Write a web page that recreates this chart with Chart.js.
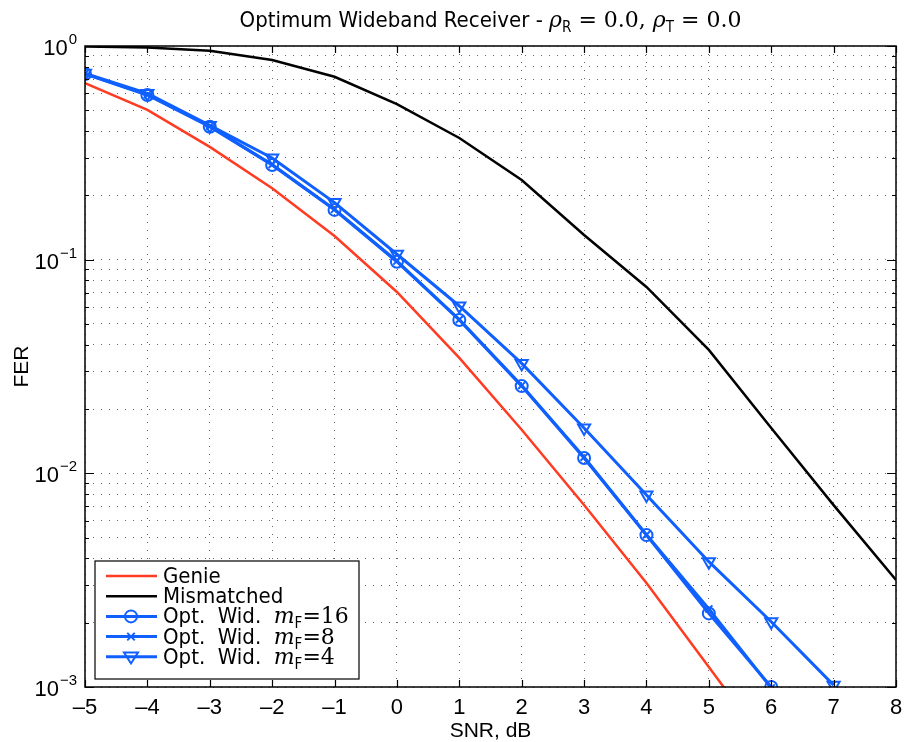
<!DOCTYPE html>
<html>
<head>
<meta charset="utf-8">
<script src="https://cdn.jsdelivr.net/npm/chart.js@4/dist/chart.umd.min.js"></script>
<style>
html, body { margin: 0; padding: 0; background: #fff; }
</style>
</head>
<body>
<canvas id="chart" width="905" height="742"></canvas>
<script>
// values
const snr = [-5, -4, -3, -2, -1, 0, 1, 2, 3, 4, 5, 6, 7, 8];
const genie = [0.671, 0.502, 0.337, 0.216, 0.129, 0.0706, 0.0347, 0.0160, 0.00711, 0.00307, 0.00124, 0.0005, null, null];
const mismatched = [0.995, 0.985, 0.95, 0.86, 0.718, 0.535, 0.371, 0.236, 0.1305, 0.0745, 0.0378, 0.0163, 0.0071, 0.00317];
const optM16 = [0.740, 0.590, 0.419, 0.2775, 0.171, 0.0978, 0.0522, 0.0256, 0.0118, 0.00514, 0.00221, 0.001, null, null];
const optM8 = [0.742, 0.592, 0.421, 0.279, 0.172, 0.0985, 0.0525, 0.0258, 0.0119, 0.00516, 0.00232, 0.00099, null, null];
const optM4 = [0.745, 0.600, 0.425, 0.299, 0.185, 0.106, 0.0607, 0.0327, 0.0163, 0.00792, 0.00386, 0.00202, 0.00102, null];
const yDecades = [1e-3, 1e-2, 1e-1, 1];
const yExponents = ['\u22123', '\u22122', '\u22121', '0'];

const RED = '#ff3b22';
const BLUE = '#1060ff';
const SANS = '"Liberation Sans", "DejaVu Sans", sans-serif';
const COND = '"DejaVu Sans Condensed", "Liberation Sans Narrow", "Liberation Sans", sans-serif';
const SERIF = '"DejaVu Serif", "Liberation Serif", serif';

const toXY = arr => snr.map((x, i) => ({ x: x, y: arr[i] }));

// text runs: [text, font, dy]
function drawRuns(ctx, runs, x, y, align) {
  let total = 0;
  runs.forEach(r => { ctx.font = r[1]; total += ctx.measureText(r[0]).width; });
  let cx = align === 'center' ? x - total / 2 : (align === 'right' ? x - total : x);
  ctx.textAlign = 'left';
  runs.forEach(r => {
    ctx.font = r[1];
    ctx.fillText(r[0], cx, y + (r[2] || 0));
    cx += ctx.measureText(r[0]).width;
  });
}

function drawMarker(ctx, style, x, y, r) {
  ctx.beginPath();
  if (style === 'circle') {
    ctx.arc(x, y, r, 0, Math.PI * 2);
  } else if (style === 'crossRot') {
    const d = r * 0.75;
    ctx.moveTo(x - d, y - d); ctx.lineTo(x + d, y + d);
    ctx.moveTo(x + d, y - d); ctx.lineTo(x - d, y + d);
  } else if (style === 'triangle') {
    ctx.moveTo(x - r, y - r * 0.6);
    ctx.lineTo(x + r, y - r * 0.6);
    ctx.lineTo(x, y + r * 0.95);
    ctx.closePath();
  }
  ctx.stroke();
}

const legendLabels = [
  [['Genie', '22px ' + COND]],
  [['Mismatched', '22px ' + COND]],
  [['Opt.  Wid.  ', '22px ' + COND], ['m', 'italic 22px ' + SERIF], ['F', '15px ' + COND, 5], ['=16', '22px ' + SERIF]],
  [['Opt.  Wid.  ', '22px ' + COND], ['m', 'italic 22px ' + SERIF], ['F', '15px ' + COND, 5], ['=8', '22px ' + SERIF]],
  [['Opt.  Wid.  ', '22px ' + COND], ['m', 'italic 22px ' + SERIF], ['F', '15px ' + COND, 5], ['=4', '22px ' + SERIF]]
];

const decorPlugin = {
  id: 'decor',
  afterDraw(chart) {
    const ctx = chart.ctx;
    const a = chart.chartArea;
    const xs = chart.scales.x, ys = chart.scales.y;
    ctx.save();
    ctx.strokeStyle = '#000';
    ctx.lineWidth = 1.2;
    // inward ticks
    ctx.beginPath();
    xs.ticks.forEach(t => {
      const px = Math.round(xs.getPixelForValue(t.value)) + 0.5;
      ctx.moveTo(px, a.bottom); ctx.lineTo(px, a.bottom - 7);
      ctx.moveTo(px, a.top); ctx.lineTo(px, a.top + 7);
    });
    ys.ticks.forEach(t => {
      const py = Math.round(ys.getPixelForValue(t.value)) + 0.5;
      const len = yDecades.includes(t.value) ? 9 : 4;
      ctx.moveTo(a.left, py); ctx.lineTo(a.left + len, py);
      ctx.moveTo(a.right, py); ctx.lineTo(a.right - len, py);
    });
    ctx.stroke();
    // axes box
    ctx.lineWidth = 1.5;
    ctx.strokeRect(a.left, a.top, a.right - a.left, a.bottom - a.top);

    // y labels 10^k
    ctx.fillStyle = '#000';
    ctx.textBaseline = 'alphabetic';
    yDecades.forEach((v, i) => {
      const py = ys.getPixelForValue(v);
      ctx.font = '15px ' + SANS;
      const supW = ctx.measureText(yExponents[i]).width;
      const right = a.left - 8;
      ctx.textAlign = 'left';
      ctx.fillText(yExponents[i], right - supW, py - 2);
      ctx.font = '22px ' + SANS;
      ctx.textAlign = 'right';
      ctx.fillText('10', right - supW - 1, py + 9);
    });

    // title
    ctx.fillStyle = '#000';
    drawRuns(ctx, [
      ['Optimum Wideband Receiver - ', '22px ' + COND],
      ['\u03c1', 'italic 22px ' + SERIF],
      ['R', '15px ' + COND, 5],
      [' = 0.0, ', '22px ' + SERIF],
      ['\u03c1', 'italic 22px ' + SERIF],
      ['T', '15px ' + COND, 5],
      [' = 0.0', '22px ' + SERIF]
    ], (a.left + a.right) / 2, 27, 'center');

    // legend
    const lx = a.left + 10, lw = 264, lh = 118;
    const ly = a.bottom - 8 - lh;
    ctx.fillStyle = '#fff';
    ctx.fillRect(lx, ly, lw, lh);
    ctx.lineWidth = 1.2;
    ctx.strokeStyle = '#000';
    ctx.strokeRect(lx, ly, lw, lh);
    chart.data.datasets.forEach((ds, i) => {
      const ry = ly + 15 + i * 20.2;
      ctx.strokeStyle = ds.borderColor;
      ctx.lineWidth = ds.borderWidth;
      ctx.beginPath();
      ctx.moveTo(lx + 11, ry); ctx.lineTo(lx + 62, ry);
      ctx.stroke();
      if (ds.pointRadius > 0) {
        ctx.lineWidth = ds.pointBorderWidth;
        drawMarker(ctx, ds.pointStyle, lx + 36, ry, ds.pointRadius);
      }
      ctx.fillStyle = '#000';
      drawRuns(ctx, legendLabels[i], lx + 68, ry + 7, 'left');
    });
    ctx.restore();
  }
};

function markerDataset(label, data, style, radius, rotation) {
  return {
    label: label,
    data: toXY(data),
    borderColor: BLUE,
    borderWidth: 3,
    pointStyle: style,
    pointRadius: radius,
    pointRotation: rotation,
    pointBorderWidth: 2,
    pointBorderColor: BLUE,
    pointBackgroundColor: 'rgba(0,0,0,0)',
    spanGaps: false,
    order: 1
  };
}

const gridCfg = { color: 'rgba(0,0,0,0.6)', lineWidth: 1, drawTicks: false };

new Chart(document.getElementById('chart'), {
  type: 'line',
  data: {
    datasets: [
      { label: 'Genie', data: toXY(genie), borderColor: RED, borderWidth: 2.5, pointRadius: 0, order: 3 },
      { label: 'Mismatched', data: toXY(mismatched), borderColor: '#000', borderWidth: 2.5, pointRadius: 0, order: 2 },
      markerDataset('Opt. Wid. mF=16', optM16, 'circle', 6, 0),
      markerDataset('Opt. Wid. mF=8', optM8, 'crossRot', 5, 0),
      markerDataset('Opt. Wid. mF=4', optM4, 'triangle', 7, 180)
    ]
  },
  options: {
    responsive: false,
    animation: false,
    devicePixelRatio: 1,
    layout: { padding: { top: 46, right: 8, left: 0, bottom: 0 } },
    plugins: { legend: { display: false }, title: { display: false }, tooltip: { enabled: false } },
    scales: {
      x: {
        type: 'linear', min: -5, max: 8,
        ticks: {
          stepSize: 1, autoSkip: false, maxRotation: 0, color: '#000', padding: 8,
          font: { family: SANS, size: 22 },
          callback: v => (v < 0 ? '\u2013' + Math.abs(v) : String(v))
        },
        grid: gridCfg,
        border: { display: false, dash: [1, 7] },
        title: { display: true, text: 'SNR, dB', color: '#000', font: { family: SANS, size: 21, lineHeight: 1 }, padding: 0 },
        afterFit(s) { s.height = 55; s.paddingLeft = 0; s.paddingRight = 0; }
      },
      y: {
        type: 'logarithmic', min: 1e-3, max: 1,
        afterBuildTicks(s) {
          const t = [];
          yDecades.slice(0, 3).forEach(d => { for (let k = 1; k <= 9; k++) t.push({ value: d * k }); });
          t.push({ value: 1 });
          s.ticks = t;
        },
        ticks: { autoSkip: false, callback: () => '', font: { size: 1 } },
        grid: gridCfg,
        border: { display: false, dash: [1, 7] },
        title: { display: true, text: 'FER', color: '#000', font: { family: SANS, size: 21, lineHeight: 1 }, padding: { top: 12 } },
        afterFit(s) { s.width = 85; s.paddingTop = 0; s.paddingBottom = 0; }
      }
    }
  },
  plugins: [decorPlugin]
});
</script>
</body>
</html>
